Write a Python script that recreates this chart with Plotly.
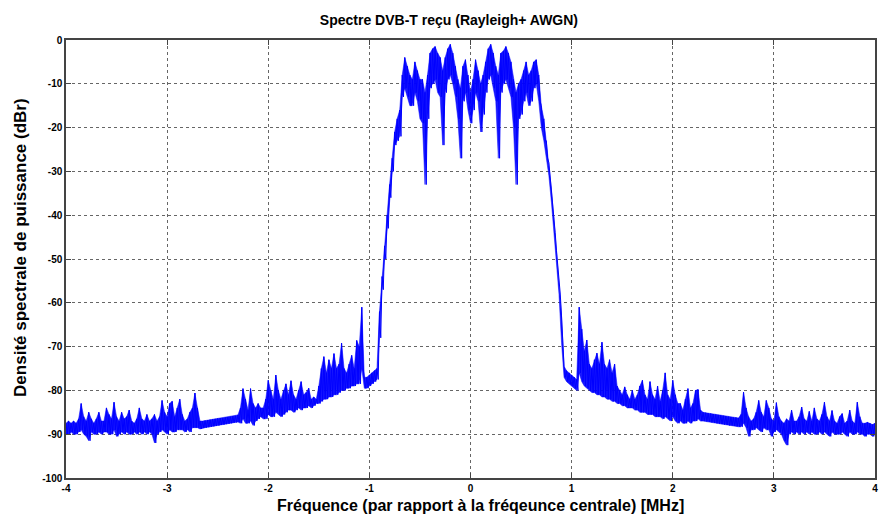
import numpy as np
import plotly.graph_objects as go

# spectre : pas de 0.025 MHz, enveloppe haute / basse (dBr)
F_START = -4.0
F_STEP = 0.025

# -4.000 .. -0.975
left_hi = [-87.5, -87, -87.5, -87, -87.5, -86.5, -83, -86, -87, -85,
           -86.5, -87.5, -86.5, -85, -87, -87, -84, -85.5, -86.5, -82.7,
           -86, -87, -85, -86.5, -86, -84.5, -87, -87.5, -86.5, -84,
           -86.5, -87, -85.5, -87, -86.5, -85.5, -87, -86, -82.3, -85,
           -86, -83, -82.5, -86, -84, -82, -85.5, -87, -86.5, -85,
           -84, -80.6, -84, -87, -87, -86.9, -86.8, -86.7, -86.6, -86.5,
           -86.4, -86.3, -86.3, -86.2, -86.1, -86.0, -85.9, -85.8, -85.6, -84,
           -79.6, -82, -84.5, -79.6, -83, -84, -83, -84, -84, -82,
           -77.7, -80, -82, -76.5, -80, -82, -80, -78.5, -81, -77.8,
           -81, -82, -80, -78, -81, -80.5, -79.5, -82, -81.5, -82,
           -79, -75, -72.3, -76, -73, -75, -71.6, -75, -74, -69.2,
           -75, -76, -74, -72, -75, -68.6, -70, -61, -77, -77,
           -76.5, -76]
left_lo = [-90, -90, -89.5, -90, -90, -89.5, -89, -90, -90.5, -91.5,
           -89.5, -90, -90, -89.5, -90, -89.5, -89.5, -90, -90, -89,
           -90.5, -90, -89.5, -90, -89.5, -90, -90, -89.5, -90, -89.5,
           -90, -89.5, -90, -89.5, -90, -92, -90, -89.5, -89, -89.5,
           -90, -89, -89.5, -89.5, -89, -89, -89, -89.5, -89, -89.5,
           -88.5, -88.5, -88.5, -88.8, -88.6, -88.5, -88.4, -88.3, -88.2, -88.1,
           -88.0, -87.9, -87.8, -87.7, -87.6, -87.5, -87.4, -87.3, -87.2, -87.5,
           -86.5, -87.5, -87.5, -87, -88, -87, -86.5, -86, -86.5, -86.5,
           -85.5, -86, -86, -85, -85.5, -86, -85.5, -85, -84.5, -84.5,
           -85, -84.5, -84, -84.5, -84, -84, -83.5, -84, -83.5, -83,
           -83, -82.5, -82, -82, -81.5, -81.5, -81, -81, -80.5, -80,
           -80, -79.5, -79.5, -79, -79, -78.5, -78.5, -75, -79.5, -79.5,
           -79, -78.5]

# -0.950 .. 0.950
mid_hi = [-75.5, -75, -62, -54, -47, -40, -33, -27, -21, -18,
          -16, -8, -4, -6, -8, -9, -5, -7, -9, -9,
          -12, -8, -3, -2, -1.5, -3, -4, -7, -4, -2,
          -1, -3, -6, -9, -11, -6, -4.5, -8, -12, -9,
          -4.5, -7, -10, -8, -5, -2, -1, -3, -6, -8,
          -3, -2.5, -1.5, -3, -5, -9, -12, -10, -9, -7,
          -5, -8, -7, -5, -4.5, -8, -15, -18, -23, -28,
          -34, -41, -48, -55, -63, -74.5, -75.5]
mid_lo = [-78, -77.5, -68, -57, -50, -43, -36, -30, -24, -23,
          -22, -13, -11, -13, -15, -15, -12, -14, -18, -19,
          -33, -18, -11, -10, -9, -12, -13, -24, -12, -9,
          -8, -10, -13, -18, -27, -14, -12, -16, -19, -16,
          -12, -14, -21, -17, -12, -9, -8, -11, -14, -27,
          -12, -10, -9, -11, -13, -20, -33, -18, -17, -14,
          -12, -15, -14, -11, -10, -14, -20, -23, -27, -31,
          -37, -44, -51, -58, -69, -77, -78]

# 0.975 .. 4.000
right_hi = [-76, -76.5, -77, -77.5, -61, -66, -71, -68.5, -74, -75,
            -73, -71.5, -74, -69, -74, -75, -73, -76, -74, -79,
            -80, -81, -79.2, -81, -82, -80, -82, -81, -79, -77.7,
            -81, -82, -78, -81, -82, -79, -82.5, -80, -76, -81,
            -82, -77.7, -81, -83, -83, -84.5, -82, -79.6, -84, -83,
            -80, -79.8, -84.5, -85, -85.1, -85.2, -85.3, -85.4, -85.5, -85.6,
            -85.7, -85.8, -85.9, -86.0, -86.1, -86.2, -86.2, -86.3, -85.5, -80.4,
            -84, -86, -87, -86.5, -85, -82.3, -85, -86, -82.3, -84,
            -86.5, -87, -82.8, -86, -87, -87.5, -86.5, -87, -84.5, -87,
            -87, -86, -83.8, -86.5, -87, -84.8, -87, -84, -86.5, -87,
            -85.5, -82.7, -86, -87, -84.6, -87, -87.5, -86, -85.3, -87.5,
            -87, -84.5, -87, -87.5, -82.7, -86, -87.5, -87.5, -87.3, -87.5,
            -87.8, -87.5]
right_lo = [-78.5, -79, -79.5, -80, -76, -78, -79, -79.5, -80, -80.5,
            -80.5, -81, -81, -81.5, -81.5, -82, -82, -82.5, -82.5, -83,
            -83, -83.5, -83.5, -84, -84, -84, -84.5, -84.5, -85, -85,
            -85, -85.5, -85.5, -85.5, -86, -86, -86, -86.5, -86, -86.5,
            -87, -86, -87, -87.5, -87, -87.5, -87.5, -87, -87.5, -87,
            -87, -86.5, -87, -87, -87.1, -87.2, -87.3, -87.4, -87.5, -87.6,
            -87.7, -87.8, -87.9, -88.0, -88.0, -88.1, -88.2, -88.3, -88.3, -87.5,
            -88.5, -90.5, -89, -89, -88.5, -89, -89.5, -88.5, -89, -89,
            -90.5, -89.5, -89, -89.5, -90, -91.5, -92.5, -90, -89.5, -90,
            -89.5, -90, -89.5, -90, -89.5, -90, -89.5, -90, -90, -89.5,
            -90, -89.5, -90, -90.5, -89.5, -90, -90, -90, -89.5, -90,
            -90.5, -89.5, -90, -90, -89.5, -90, -90, -90.5, -90, -90,
            -90.5, -90]

X_TICKS = [-4, -3, -2, -1, 0, 1, 2, 3, 4]
X_LABELS = ["-4", "-3", "-2", "-1", "0", "1", "2", "3", "4"]
Y_TICKS = [0, -10, -20, -30, -40, -50, -60, -70, -80, -90, -100]
Y_LABELS = ["0", "-10", "-20", "-30", "-40", "-50", "-60", "-70", "-80", "-90", "-100"]

hi = np.array(left_hi + mid_hi + right_hi)
lo = np.array(left_lo + mid_lo + right_lo)
assert len(hi) == len(lo) == 321, (len(hi), len(lo))
freq = F_START + F_STEP * np.arange(len(hi))

# trace dense façon matlab : alternance haut / bas
x = np.empty(2 * len(hi))
y = np.empty(2 * len(hi))
x[0::2] = freq
x[1::2] = freq + F_STEP / 2
y[0::2] = hi
y[1::2] = lo

BLUE = "#0000ff"
fig = go.Figure()
# bande pleine entre enveloppes
fig.add_trace(go.Scatter(x=freq, y=lo, mode="lines", line=dict(color=BLUE, width=0.5),
                         showlegend=False, hoverinfo="skip"))
fig.add_trace(go.Scatter(x=freq, y=hi, mode="lines", line=dict(color=BLUE, width=0.5),
                         fill="tonexty", fillcolor="rgba(0,0,255,0.9)",
                         showlegend=False, hoverinfo="skip"))
fig.add_trace(go.Scatter(x=x, y=y, mode="lines",
                         line=dict(color=BLUE, width=1),
                         showlegend=False, hoverinfo="skip"))

font_fam = "Liberation Sans, Arial, sans-serif"
axis_common = dict(
    showline=True, linecolor="#444444", linewidth=1.5, mirror="ticks",
    ticks="inside", ticklen=5, tickcolor="#444444", tickwidth=1,
    showgrid=True, gridcolor="#666666", griddash="dot", gridwidth=1,
    zeroline=False,
    tickfont=dict(family=font_fam, size=10, color="#000000", weight="bold"),
)

fig.update_layout(
    width=882, height=517,
    margin=dict(l=66, r=4, t=40, b=39),
    paper_bgcolor="white", plot_bgcolor="white",
    title=dict(text="Spectre DVB-T reçu (Rayleigh+ AWGN)",
               xref="container", x=0.509, xanchor="center",
               yref="container", y=0.961, yanchor="middle",
               font=dict(family=font_fam, size=14, color="#000000", weight="bold")),
    xaxis=dict(range=[-4, 4], tickvals=X_TICKS, ticktext=X_LABELS, **axis_common),
    yaxis=dict(range=[-100, 0], tickvals=Y_TICKS, ticktext=Y_LABELS, **axis_common),
)

fig.add_annotation(text="Fréquence (par rapport à la fréqeunce centrale) [MHz]",
                   xref="paper", yref="paper", x=0.512, y=-0.062,
                   xanchor="center", yanchor="middle", showarrow=False,
                   font=dict(family=font_fam, size=16, color="#000000", weight="bold"))
fig.add_annotation(text="Densité spectrale de puissance (dBr)",
                   xref="paper", yref="paper", x=-0.0565, y=0.526,
                   xanchor="center", yanchor="middle", showarrow=False, textangle=-90,
                   font=dict(family=font_fam, size=17, color="#000000", weight="bold"))

fig.write_html("out.html", config={"displayModeBar": False},
               post_script="document.body.style.margin='0';")
